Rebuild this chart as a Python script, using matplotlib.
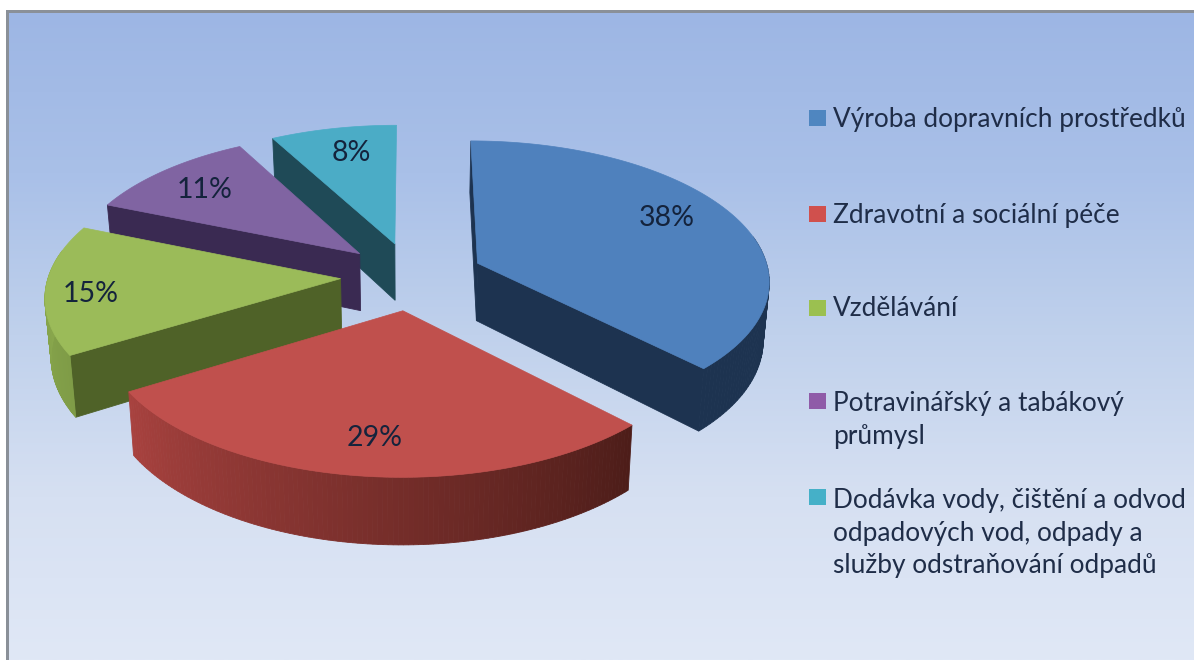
import numpy as np
import matplotlib
matplotlib.use("Agg")
import matplotlib.pyplot as plt
from matplotlib.patches import Polygon, Rectangle
from matplotlib.colors import to_rgb, LinearSegmentedColormap

categories = ["Výroba dopravních prostředků", "Zdravotní a sociální péče", "Vzdělávání",
	"Potravinářský a tabákový\nprůmysl", "Dodávka vody, čištění a odvod\nodpadových vod, odpady a\nslužby odstraňování odpadů"]
shares = [38, 29, 15, 11, 8]

top_colors = ["#4f81bd", "#c0504d", "#9bbb59", "#8064a2", "#4bacc6"]
cut_colors = ["#1d3350", "#7a2e2b", "#4f6228", "#3a2a52", "#1f4a57"]
wall_start = ["#1d3350", "#4d1d19", "#7f9c47", "#3a2a52", "#1f4a57"]
wall_end = ["#1d3350", "#a8423f", "#8fae50", "#3a2a52", "#1f4a57"]
legend_colors = ["#4f86c0", "#d0504d", "#9bc050", "#8f5ba8", "#45b0c8"]
label_xy = [(667, 218), (375, 438), (91, 294), (205, 190), (351, 153)]
legend_y = [118, 214, 308, 401, 497]
text_y = [120, 215, 309, 420, 533]
bg_colors = ["#9db6e4", "#a9c0e8", "#c0d1ec", "#d6e0f2", "#e0e8f6"]

# pie geometry, in pixels of the picture
CX, CY = 412, 276
A, B = 292, 139
P = 0.114
EXPLODE = 0.245
DEPTH = 58
SHRINK = 0.983

def project(X, Y, low=False):
	w = 1 + P * Y
	sx = A * X / w
	sy = -B * Y / w
	if low:
		return CX + sx * SHRINK, CY + sy + DEPTH / w
	return CX + sx, CY + sy

def quad(ax, pts, color, z):
	ax.add_patch(Polygon(pts, closed=True, facecolor=color, edgecolor=color, lw=0.6, zorder=z))

fig = plt.figure(figsize=(11.94, 6.6), dpi=100)
ax = fig.add_axes([0, 0, 1, 1])
ax.set_xlim(0, 1194)
ax.set_ylim(660, 0)
ax.axis("off")

cmap = LinearSegmentedColormap.from_list("bg", bg_colors)
ax.imshow(np.linspace(0, 1, 256).reshape(-1, 1), cmap=cmap, extent=(6, 1194, 660, 10), aspect="auto", zorder=0)
ax.add_patch(Rectangle((6, 10), 3, 650, facecolor="#8a9098", edgecolor="none", zorder=1))
ax.add_patch(Rectangle((6, 10), 1188, 3, facecolor="#8a9098", edgecolor="none", zorder=1))

fracs = np.array(shares) / sum(shares)
ends = np.cumsum(fracs) * 2 * np.pi
starts = ends - fracs * 2 * np.pi

# back slices first, the red one is in front of all
draw_order = [4, 3, 2, 0, 1]
for z, i in enumerate(draw_order):
	z = z + 2
	mid = (starts[i] + ends[i]) / 2
	ox, oy = EXPLODE * np.sin(mid), EXPLODE * np.cos(mid)
	t = np.linspace(starts[i], ends[i], 120)
	X, Y = ox + np.sin(t), oy + np.cos(t)
	tx, ty = project(X, Y)
	lx, ly = project(X, Y, low=True)
	ax0, ay0 = project(ox, oy)
	bx0, by0 = project(ox, oy, low=True)

	# cut faces, only the ones turned to the viewer
	if np.sin(starts[i]) < 1e-9:
		quad(ax, [(ax0, ay0), (tx[0], ty[0]), (lx[0], ly[0]), (bx0, by0)], cut_colors[i], z)
	if np.sin(ends[i]) > 1e-9:
		quad(ax, [(ax0, ay0), (tx[-1], ty[-1]), (lx[-1], ly[-1]), (bx0, by0)], cut_colors[i], z)
	# outer wall, shaded along the rim, back part stays hidden
	c0, c1 = np.array(to_rgb(wall_start[i])), np.array(to_rgb(wall_end[i]))
	for k in range(len(t) - 1):
		if np.cos(t[k]) > 0.2:
			continue
		f = k / (len(t) - 2)
		quad(ax, [(tx[k], ty[k]), (tx[k + 1], ty[k + 1]), (lx[k + 1], ly[k + 1]), (lx[k], ly[k])], c0 + (c1 - c0) * f, z)
	# top of the slice
	ax.add_patch(Polygon(np.vstack([[ax0, ay0], np.column_stack([tx, ty])]), closed=True,
		facecolor=top_colors[i], edgecolor=top_colors[i], lw=0.5, zorder=z))
	ax.text(label_xy[i][0], label_xy[i][1], "%d%%" % shares[i], family="Lato", fontsize=20.5,
		color="#14233c", ha="center", va="center", zorder=20)

for i in range(5):
	ax.add_patch(Rectangle((809, legend_y[i] - 8), 17, 16, facecolor=legend_colors[i], edgecolor="none", zorder=3))
	ax.text(833, text_y[i], categories[i], family="Lato", fontsize=18.9, color="#1f2d48",
		ha="left", va="center", linespacing=1.38, zorder=20)

plt.savefig("out.png", dpi=100)
